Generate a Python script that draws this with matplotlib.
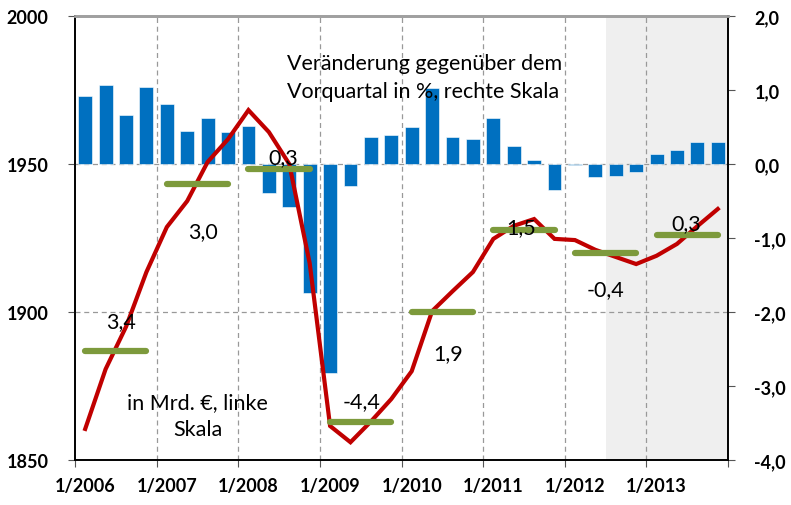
import matplotlib
matplotlib.use("Agg")
import matplotlib.pyplot as plt
import numpy as np

# ---- data ----
years = [2006, 2007, 2008, 2009, 2010, 2011, 2012, 2013]
xtick_labels = ["1/2006", "1/2007", "1/2008", "1/2009", "1/2010", "1/2011", "1/2012", "1/2013"]

# quarterly change vs previous quarter in % (right axis)
qoq_change = [0.92, 1.07, 0.66, 1.04,
              0.81, 0.45, 0.62, 0.43,
              0.51, -0.39, -0.58, -1.74,
              -2.82, -0.30, 0.36, 0.39,
              0.50, 1.03, 0.37, 0.34,
              0.62, 0.24, 0.06, -0.35,
              -0.02, -0.17, -0.16, -0.11,
              0.13, 0.19, 0.30, 0.30]

# GDP level in bn EUR (left axis)
gdp_level = [1860.5, 1880.7, 1895.0, 1913.5,
             1928.7, 1937.5, 1950.7, 1958.4,
             1968.2, 1960.8, 1950.0, 1916.5,
             1861.5, 1856.0, 1863.0, 1870.6,
             1880.0, 1900.3, 1907.0, 1913.5,
             1924.7, 1929.1, 1931.4, 1924.7,
             1924.3, 1921.0, 1918.6, 1916.2,
             1919.0, 1923.0, 1929.0, 1934.8]

# annual average level (green bars) and annual growth labels
annual_avg = [1886.8, 1943.2, 1948.3, 1862.8, 1900.0, 1927.7, 1919.9, 1926.0]
annual_growth = ["3,4", "3,0", "0,3", "-4,4", "1,9", "1,5", "-0,4", "0,3"]
# label offsets relative to the green segment centre
label_dy = [10, -16, 4, 7, -14, 1, -12, 4]
label_dx = [0.07, 0.07, 0.05, 0.01, 0.07, -0.04, 0.0, -0.01]

left_ticks = [1850, 1900, 1950, 2000]
right_ticks = [2.0, 1.0, 0.0, -1.0, -2.0, -3.0, -4.0]

forecast_start = 2012.5

BLUE = "#0070C0"
RED = "#C00000"
GREEN = "#7D9A3C"

FONT = "Lato"
plt.rcParams['font.family'] = [FONT, 'DejaVu Sans']

fig = plt.figure(figsize=(7.91, 5.06), dpi=100)
ax = fig.add_axes([75/791, 45/506, (728-75)/791, (461-17)/506])
ax2 = ax.twinx()

n = len(qoq_change)
xq = np.array(years[0] + (np.arange(n) + 0.5) / 4.0)

# shaded forecast area
ax.axvspan(forecast_start, years[-1] + 1, color="#EFEFEF", zorder=0, lw=0)

# grid
for y in years[1:]:
    ax.axvline(y, color="#999999", lw=0.9, ls=(0, (4, 3)), zorder=1)
for v in left_ticks[1:-1]:
    ax.axhline((v - 1950) / 25.0, color="#999999", lw=0.9, ls=(0, (4, 3)), zorder=1)

# bars
ax.bar(xq, qoq_change, width=0.25 * 0.68, color=BLUE, edgecolor="white",
       linewidth=0.4, zorder=2)
ax.set_ylim(-4, 2)
ax.set_xlim(years[0], years[-1] + 1)

# line on twin axis
ax2.plot(xq, gdp_level, color=RED, lw=3.0, solid_joinstyle="miter", zorder=3)
for i, yr in enumerate(years):
    ax2.plot([yr + 0.125, yr + 0.875], [annual_avg[i]] * 2, color=GREEN, lw=4.5,
             solid_capstyle="round", zorder=4)
    ax2.text(yr + 0.5 + label_dx[i], annual_avg[i] + label_dy[i], annual_growth[i],
             ha="center", va="center", fontsize=15.5, color="black", zorder=5)
ax2.set_ylim(1850, 2000)

# axes styling
ax.yaxis.tick_right()
ax.yaxis.set_label_position("right")
ax2.yaxis.tick_left()
ax.set_yticks(right_ticks)
ax.set_yticklabels([f"{t:.1f}".replace(".", ",") for t in right_ticks],
                   fontsize=13, fontweight="bold")
ax2.set_yticks(left_ticks)
ax2.set_yticklabels([str(t) for t in left_ticks], fontsize=13, fontweight="bold")
ax.set_xticks(years + [years[-1] + 1])
ax.set_xticklabels([])
ax.set_xticks([y + 0.125 for y in years], minor=True)
ax.set_xticklabels(xtick_labels, minor=True, fontsize=13, fontweight="bold")
ax.tick_params(axis="x", which="minor", length=0, pad=12)

for a in (ax, ax2):
    a.tick_params(axis="both", which="major", length=5, width=0.8, color="#555555")
ax.tick_params(axis="y", pad=14)
ax2.tick_params(axis="y", pad=14)

for a in (ax, ax2):
    a.spines["top"].set_color("#A0A0A0")
    a.spines["top"].set_linewidth(2)
    for s in ("left", "right", "bottom"):
        a.spines[s].set_color("black")
        a.spines[s].set_linewidth(1.2)

# annotations
ax2.text(2008.6, 1987.5, "Veränderung gegenüber dem\nVorquartal in %, rechte Skala",
         ha="left", va="top", fontsize=15.5, linespacing=1.5)
ax2.text(2007.5, 1865, "in Mrd. €, linke\nSkala", ha="center", va="center",
         fontsize=15.5, linespacing=1.45)

fig.savefig("out.png", dpi=100)
